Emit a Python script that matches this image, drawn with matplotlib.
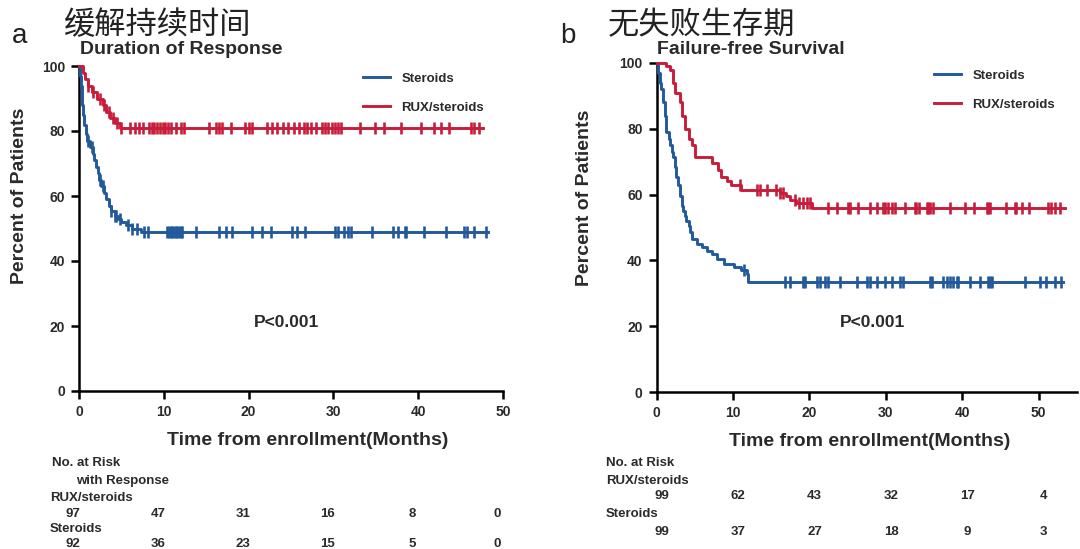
import numpy as np
import matplotlib
matplotlib.use("Agg")
import matplotlib.pyplot as plt
import matplotlib.transforms as mtransforms

plt.rcParams["font.family"] = ["Liberation Sans", "DejaVu Sans"]

BLUE = "#21599b"
RED = "#c81d3a"
INK = "#2a2a2a"

# ---- panel a: duration of response ----
dor_rux_t = [0, 0.5, 0.7, 1.1, 1.5, 2.1, 2.8, 3.2, 3.6, 4.2, 4.8]
dor_rux_s = [100, 98, 96, 94, 92, 90, 88, 86, 84, 82.5, 81]
dor_rux_end = 47.6
dor_rux_cens = [1.1, 1.6, 2.5, 3.0, 3.5, 4.0, 4.5, 5.0, 6.0, 6.6, 7.1, 7.5, 8.3, 8.6, 8.9,
                9.2, 9.5, 9.9, 10.2, 10.5, 10.9, 11.4, 12.0, 12.4, 15.3, 16.1, 16.5, 16.9,
                17.9, 19.6, 20.0, 20.4, 22.2, 22.8, 23.3, 24.1, 24.7, 25.3, 25.9, 26.5,
                26.9, 27.4, 28.0, 28.6, 29.0, 29.4, 29.8, 30.2, 30.6, 30.9, 33.1, 34.9,
                36.0, 38.0, 40.3, 41.9, 42.7, 43.6, 46.2, 46.6, 47.2]

dor_ste_t = [0, 0.1, 0.2, 0.3, 0.4, 0.5, 0.6, 0.8, 1.0, 1.3, 1.6, 1.8, 2.0, 2.2, 2.4,
             2.6, 2.9, 3.2, 3.5, 3.8, 4.2, 4.6, 5.0, 5.6, 6.2, 7.3]
dor_ste_s = [100, 97, 94, 91, 88, 85, 82, 79, 77, 75, 73, 71, 69, 67, 65,
             63, 61, 59, 57, 55.5, 54, 53, 52, 51, 50, 49]
dor_ste_end = 48.2
dor_ste_cens = [1.1, 1.5, 2.5, 2.8, 3.8, 4.2, 4.4, 4.8, 5.8, 6.2, 6.8, 7.7, 8.1,
                10.4, 10.6, 10.8, 11.0, 11.2, 11.4, 11.6, 11.8, 12.0, 12.2, 13.8,
                16.5, 17.3, 18.1, 20.4, 21.6, 22.6, 25.1, 25.7, 26.7, 30.2, 30.6,
                31.3, 31.7, 32.1, 34.6, 37.0, 37.6, 38.4, 38.6, 40.7, 43.3, 45.4,
                45.8, 46.6, 48.0]

# ---- panel b: failure-free survival ----
ffs_rux_t = [0, 1.3, 1.8, 2.2, 2.4, 3.1, 3.3, 3.7, 4.2, 4.6, 5.0, 7.2, 8.1, 8.5,
             9.2, 9.8, 11.0, 16.2, 17.0, 17.5, 18.3, 20.3]
ffs_rux_s = [100, 99, 98, 94, 91, 88, 84, 80, 77, 75, 71.5, 69.5, 67.5, 65.5,
             64, 63, 61.5, 60.5, 59.5, 58.5, 57.5, 56]
ffs_rux_end = 53.5
ffs_rux_cens = [10.9, 13.1, 13.6, 14.4, 15.7, 16.2, 16.6, 18.1, 18.6, 19.2, 19.7, 20.1,
                22.5, 23.6, 25.1, 25.3, 26.4, 27.9, 28.8, 29.7, 29.9, 30.3, 30.8,
                31.2, 32.5, 33.8, 34.0, 34.3, 35.4, 35.6, 35.8, 36.2, 38.4, 40.4,
                41.5, 43.2, 43.4, 43.7, 45.8, 46.9, 47.1, 47.8, 48.7, 51.3, 51.7,
                52.2, 52.8]

ffs_ste_t = [0, 0.2, 0.4, 0.6, 0.8, 1.1, 1.3, 1.6, 1.8, 2.0, 2.2, 2.4, 2.6, 2.8,
             3.1, 3.3, 3.5, 3.7, 3.9, 4.2, 4.4, 4.6, 5.3, 5.9, 6.6, 7.2, 7.9, 8.8,
             10.1, 11.0, 11.8, 12.0]
ffs_ste_s = [100, 97, 94, 92, 88, 84, 79, 77, 75, 73, 71.5, 68.5, 65.5, 63,
             59.5, 56.5, 55, 53.5, 52, 50.5, 48.5, 46.5, 45, 44, 43, 42, 40.5, 39,
             38, 37, 36, 33.5]
ffs_ste_end = 53.2
ffs_ste_cens = [11.5, 16.8, 17.5, 19.2, 19.4, 21.0, 21.4, 22.0, 22.5, 24.0, 26.2,
                27.5, 27.9, 28.8, 29.9, 30.8, 31.9, 32.3, 35.8, 36.0, 37.5, 38.0,
                38.4, 38.8, 39.3, 39.5, 41.0, 42.3, 43.4, 43.7, 43.9, 48.2, 50.2,
                51.0, 52.2, 53.0]

risk_times = [0, 10, 20, 30, 40, 50]
dor_risk_rux = [97, 47, 31, 16, 8, 0]
dor_risk_ste = [92, 36, 23, 15, 5, 0]
ffs_risk_rux = [99, 62, 43, 32, 17, 4]
ffs_risk_ste = [99, 37, 27, 18, 9, 3]

W, H = 1080, 549


def fx(x):
    return x / W


def fy(y):
    return 1 - y / H


def km(ax, t, s, end, cens, color, label):
    t = np.asarray(t, float)
    s = np.asarray(s, float)
    xs = np.append(t, end)
    ys = np.append(s, s[-1])
    line, = ax.step(xs, ys, where="post", color=color, lw=2.1, clip_on=False,
                    zorder=3, label=label)
    c = np.asarray(cens, float)
    idx = np.searchsorted(t, c, side="right") - 1
    ax.plot(c, s[idx], ls="none", marker="|", ms=8, mew=1.9, color=color,
            clip_on=False, zorder=4)
    return line


def style_axes(ax, xmax, xlabel_x, ylabel_y, p_x, legend_x):
    ax.set_xlim(0, xmax)
    ax.set_ylim(0, 100)
    ax.set_xticks([0, 10, 20, 30, 40, 50])
    ax.set_yticks([0, 20, 40, 60, 80, 100])
    for side in ("top", "right"):
        ax.spines[side].set_visible(False)
    for side in ("left", "bottom"):
        ax.spines[side].set_linewidth(1.8)
        ax.spines[side].set_color("black")
    ax.tick_params(direction="out", length=6, width=1.8, labelsize=10,
                   labelcolor=INK, pad=4)
    for lab in ax.get_xticklabels() + ax.get_yticklabels():
        lab.set_fontweight("bold")
    ax.set_xlabel("Time from enrollment(Months)", fontsize=14, fontweight="bold",
                  color=INK)
    ax.set_ylabel("Percent of Patients", fontsize=14, fontweight="bold", color=INK)
    ax.xaxis.set_label_coords(xlabel_x, -0.125)
    ax.yaxis.set_label_coords(ylabel_y[0], ylabel_y[1])
    ax.text(p_x, 0.21, "P<0.001", transform=ax.transAxes, fontsize=12.5,
            fontweight="bold", color=INK, ha="center", va="center")
    ax.legend(loc="upper left", bbox_to_anchor=(legend_x, 1.0), frameon=False,
              borderpad=0, handlelength=2.0, handletextpad=0.9, labelspacing=1.25,
              prop={"weight": "bold", "size": 9.5}, labelcolor=INK)


fig = plt.figure(figsize=(10.8, 5.49), dpi=100)

# panel a
ax1 = fig.add_axes([fx(79), fy(391), (503 - 79) / W, (391 - 66) / H])
km(ax1, dor_ste_t, dor_ste_s, dor_ste_end, dor_ste_cens, BLUE, "Steroids")
km(ax1, dor_rux_t, dor_rux_s, dor_rux_end, dor_rux_cens, RED, "RUX/steroids")
style_axes(ax1, 50, 0.54, (-0.12, 0.6), 0.49, 0.655)

# panel b
ax2 = fig.add_axes([fx(656.5), fy(392), (55 * 7.64) / W, (392 - 63) / H])
km(ax2, ffs_ste_t, ffs_ste_s, ffs_ste_end, ffs_ste_cens, BLUE, "Steroids")
km(ax2, ffs_rux_t, ffs_rux_s, ffs_rux_end, ffs_rux_cens, RED, "RUX/steroids")
style_axes(ax2, 55, 0.508, (-0.15, 0.59), 0.515, 0.645)

# headings
fig.text(fx(12), fy(36), "a", fontsize=20, va="center", ha="left", color="#222")
fig.text(fx(63), fy(25), "缓解持续时间", fontsize=22.5, va="center", ha="left",
         color="#222", family=["Noto Sans CJK SC", "DejaVu Sans"])
fig.text(fx(80), fy(49), "Duration of Response", fontsize=14, fontweight="bold",
         va="center", ha="left", color=INK)
fig.text(fx(560), fy(36), "b", fontsize=20, va="center", ha="left", color="#222")
fig.text(fx(608), fy(25), "无失败生存期", fontsize=22.5, va="center", ha="left",
         color="#222", family=["Noto Sans CJK SC", "DejaVu Sans"])
fig.text(fx(657), fy(49), "Failure-free Survival", fontsize=14, fontweight="bold",
         va="center", ha="left", color=INK)

# number at risk tables
rk = dict(fontsize=9.5, fontweight="bold", color=INK, va="center")
fig.text(fx(52), fy(463), "No. at Risk", ha="left", **rk)
fig.text(fx(76), fy(481), "with Response", ha="left", **rk)
fig.text(fx(50), fy(498), "RUX/steroids", ha="left", **rk)
fig.text(fx(50), fy(529), "Steroids", ha="left", **rk)
tr1 = mtransforms.blended_transform_factory(ax1.transData, fig.transFigure)
for t, a, b in zip(risk_times, dor_risk_rux, dor_risk_ste):
    ax1.text(t - 0.7, fy(514), str(a), transform=tr1, ha="center", clip_on=False, **rk)
    ax1.text(t - 0.7, fy(544), str(b), transform=tr1, ha="center", clip_on=False, **rk)

fig.text(fx(606), fy(463), "No. at Risk", ha="left", **rk)
fig.text(fx(606), fy(481), "RUX/steroids", ha="left", **rk)
fig.text(fx(606), fy(514), "Steroids", ha="left", **rk)
tr2 = mtransforms.blended_transform_factory(ax2.transData, fig.transFigure)
for t, a, b in zip(risk_times, ffs_risk_rux, ffs_risk_ste):
    ax2.text(t + 0.7, fy(496), str(a), transform=tr2, ha="center", clip_on=False, **rk)
    ax2.text(t + 0.7, fy(532), str(b), transform=tr2, ha="center", clip_on=False, **rk)

fig.savefig("out.png", dpi=100, facecolor="white")
